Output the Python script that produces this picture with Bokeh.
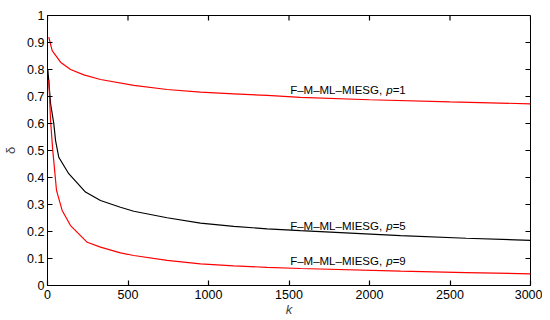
from bokeh.plotting import figure
from bokeh.models import FixedTicker
from bokeh.embed import file_html
from bokeh.resources import INLINE
from bokeh.core.properties import value

# ---- data ----
k_p1 = [8, 29, 81, 143, 226, 329, 536, 743, 950, 1157, 1364, 1571, 2000, 2500, 3000]
d_p1 = [0.92, 0.87, 0.827, 0.80, 0.78, 0.763, 0.741, 0.726, 0.716, 0.71, 0.704, 0.697, 0.688, 0.68, 0.673]

k_p5 = [2, 19, 39, 50, 70, 132, 236, 329, 453, 536, 743, 950, 1157, 1364, 1571, 2193, 2600, 3000]
d_p5 = [0.80, 0.674, 0.60, 0.537, 0.475, 0.414, 0.346, 0.315, 0.29, 0.275, 0.251, 0.231, 0.219, 0.21, 0.203, 0.185, 0.175, 0.167]

k_p9 = [8, 19, 32, 56, 91, 143, 247, 329, 453, 536, 743, 950, 1157, 1364, 1571, 2193, 2600, 3000]
d_p9 = [0.762, 0.611, 0.505, 0.352, 0.278, 0.222, 0.16, 0.142, 0.121, 0.111, 0.093, 0.08, 0.073, 0.067, 0.063, 0.053, 0.048, 0.043]

x_ticks = [0, 500, 1000, 1500, 2000, 2500, 3000]
x_tick_labels = ["0", "500", "1000", "1500", "2000", "2500", "3000"]
y_ticks = [0, 0.1, 0.2, 0.3, 0.4, 0.5, 0.6, 0.7, 0.8, 0.9, 1.0]
y_tick_labels = ["0", "0.1", "0.2", "0.3", "0.4", "0.5", "0.6", "0.7", "0.8", "0.9", "1"]

label_prefix = "F\u2013M\u2013ML\u2013MIESG,"
label_p = "p"
label_suffixes = ["=1", "=5", "=9"]
label_k = [1507, 1507, 1507]
label_d = [0.725, 0.219, 0.09]

X_MIN, X_MAX = 0, 3000
Y_MIN, Y_MAX = 0, 1
TICK_LEN = 5

FONT = "Liberation Sans"

p = figure(frame_width=483, frame_height=270, output_backend="svg",
           toolbar_location=None, x_range=(X_MIN, X_MAX), y_range=(Y_MIN, Y_MAX),
           min_border_left=39, min_border_right=12, min_border_top=15, min_border_bottom=20)
p.xgrid.visible = False
p.ygrid.visible = False
p.outline_line_color = "black"
p.outline_line_width = 1
p.background_fill_color = "white"
p.border_fill_color = "white"

for ax, ticks, labels in ((p.xaxis[0], x_ticks, x_tick_labels), (p.yaxis[0], y_ticks, y_tick_labels)):
    ax.ticker = FixedTicker(ticks=ticks)
    ax.major_label_overrides = {t: l for t, l in zip(ticks, labels)}
    ax.major_tick_in = TICK_LEN
    ax.major_tick_out = 0
    ax.minor_tick_in = 0
    ax.minor_tick_out = 0
    ax.axis_line_color = "black"
    ax.major_tick_line_color = "black"
    ax.major_tick_line_width = 1.2
    ax.major_label_text_font = FONT
    ax.major_label_text_font_size = "12.5px"
    ax.major_label_text_color = "black"
    ax.axis_label_text_font = FONT
    ax.axis_label_text_font_size = "13px"
    ax.axis_label_text_font_style = "normal"
    ax.axis_label_standoff = 0
    ax.major_label_standoff = 3

p.xaxis[0].axis_label = "k"
p.xaxis[0].axis_label_text_font_style = "italic"
p.xaxis[0].major_label_standoff = 4
p.yaxis[0].axis_label = "\u03b4"
p.yaxis[0].axis_label_standoff = 6

# mirrored ticks on the top and right edges
p.segment(x0=x_ticks, y0=[Y_MAX] * len(x_ticks), x1=x_ticks,
          y1=[Y_MAX - (Y_MAX - Y_MIN) * TICK_LEN / 270] * len(x_ticks),
          line_color="black", line_width=1.2)
p.segment(x0=[X_MAX] * len(y_ticks), y0=y_ticks,
          x1=[X_MAX - (X_MAX - X_MIN) * TICK_LEN / 483] * len(y_ticks), y1=y_ticks,
          line_color="black", line_width=1.2)

p.line(k_p1, d_p1, line_color="#ff0000", line_width=1.2)
p.line(k_p5, d_p5, line_color="black", line_width=1.2)
p.line(k_p9, d_p9, line_color="#ff0000", line_width=1.2)

fs = "11.5px"
p.text(x=label_k, y=label_d, text=[label_prefix] * 3, text_font=value(FONT),
       text_font_size=fs, text_baseline="middle", text_align="left", text_color="black")
p.text(x=label_k, y=label_d, text=[label_p] * 3, text_font=value(FONT), x_offset=96,
       text_font_size=fs, text_font_style="italic", text_baseline="middle",
       text_align="left", text_color="black")
p.text(x=label_k, y=label_d, text=label_suffixes, text_font=value(FONT), x_offset=102.5,
       text_font_size=fs, text_baseline="middle", text_align="left", text_color="black")

open("out.html", "w").write(file_html(p, INLINE))
